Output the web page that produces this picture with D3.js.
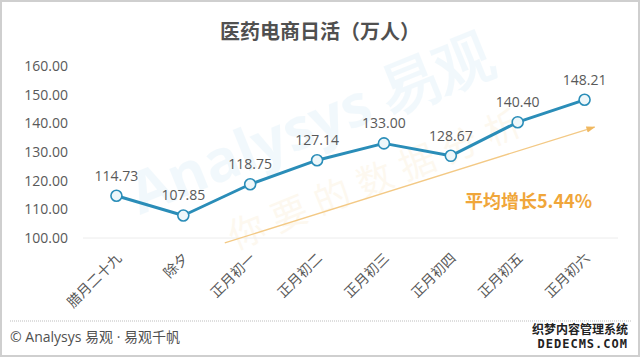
<!DOCTYPE html>
<html><head><meta charset="utf-8">
<script src="https://cdn.jsdelivr.net/npm/d3@7/dist/d3.min.js"></script>
<style>body{margin:0;background:#fff}svg{display:block}</style>
</head><body><svg id="c" width="640" height="357"></svg>
<script>
const categories = ["腊月二十九","除夕","正月初一","正月初二","正月初三","正月初四","正月初五","正月初六"];
const values = [114.73,107.85,118.75,127.14,133.00,128.67,140.40,148.21];
const yTicks = [100,110,120,130,140,150,160];
const title = "医药电商日活（万人）";
const growthLabel = "平均增长5.44%";
const trendFrom = [1.62, 98.3];   // [category index, value]
const trendTo = [7.15, 138.7];
const footer = "© Analysys 易观 · 易观千帆";

const svg = d3.select("#c");
const W = 640, H = 357;
const font = "'Noto Sans CJK SC','Noto Sans',sans-serif";
const txt = "#595959";

svg.append("rect").attr("x",1).attr("y",1).attr("width",W-2).attr("height",H-2)
  .attr("fill","#fff").attr("stroke","#cfcfcf").attr("stroke-width",2);

const x = d3.scaleBand().domain(categories).range([83,618]);
const xi = d3.scaleLinear().domain([0,1]).range([x(categories[0])+x.bandwidth()/2, x(categories[1])+x.bandwidth()/2]);
const y = d3.scaleLinear().domain([100,160]).range([238,66]);

// faint watermarks
const wm = svg.append("g").attr("pointer-events","none");
wm.append("text").attr("transform","translate(140,215) rotate(-22)")
  .attr("font-family","'Open Sans',sans-serif").attr("font-size",58).attr("font-weight",700)
  .attr("fill","#2e9bd6").attr("opacity",0.06).text("Analysys 易观");
wm.append("text").attr("transform","translate(235,250) rotate(-22)")
  .attr("font-family",font).attr("font-size",36)
  .attr("fill","#e8b040").attr("opacity",0.08).attr("letter-spacing",10).text("你要的数据分析");

svg.append("text").attr("x",320).attr("y",39).attr("text-anchor","middle")
  .attr("font-family",font).attr("font-size",20).attr("font-weight",700).attr("fill","#505050").text(title);

// y axis
const ya = svg.append("g").attr("transform","translate(68,0)")
  .call(d3.axisLeft(y).tickValues(yTicks).tickFormat(d3.format(".2f")).tickSize(0).tickPadding(0));
ya.select(".domain").remove();
ya.selectAll("text").attr("font-family","'Open Sans',sans-serif").attr("font-size",14).attr("fill",txt).attr("dy","0.32em");

// baseline
svg.append("line").attr("x1",83).attr("x2",618).attr("y1",y(100)).attr("y2",y(100))
  .attr("stroke","#ececec").attr("stroke-width",1);

// x axis
const xa = svg.append("g").attr("transform",`translate(0,${y(100)})`)
  .call(d3.axisBottom(x).tickSize(0).tickPadding(0));
xa.select(".domain").remove();
xa.selectAll("text").attr("font-family",font).attr("font-size",14).attr("fill",txt)
  .attr("text-anchor","end").attr("dy",0)
  .attr("transform","translate(6,21) rotate(-45)");

// trend arrow
const defs = svg.append("defs");
defs.append("marker").attr("id","ah").attr("viewBox","0 0 10 10").attr("refX",9).attr("refY",5)
  .attr("markerWidth",7).attr("markerHeight",7).attr("orient","auto")
  .append("path").attr("d","M0,1.5 L10,5 L0,8.5 Z").attr("fill","#f0b860");
svg.append("line").attr("x1",xi(trendFrom[0])).attr("y1",y(trendFrom[1]))
  .attr("x2",xi(trendTo[0])).attr("y2",y(trendTo[1]))
  .attr("stroke","#f3c985").attr("stroke-width",1.3).attr("marker-end","url(#ah)");
svg.append("text").attr("x",592).attr("y",208).attr("text-anchor","end")
  .attr("font-family",font).attr("font-size",18).attr("font-weight",700).attr("fill","#f0a63a").text(growthLabel);

// line
const cx = (d,i)=>x(categories[i])+x.bandwidth()/2;
svg.append("path").datum(values)
  .attr("d",d3.line().x(cx).y(d=>y(d)))
  .attr("fill","none").attr("stroke","#2a8db8").attr("stroke-width",3).attr("stroke-linejoin","round");
svg.selectAll("circle.pt").data(values).join("circle").attr("class","pt")
  .attr("cx",cx).attr("cy",d=>y(d)).attr("r",5.5)
  .attr("fill","#eef7fa").attr("stroke","#2a8db8").attr("stroke-width",1.6);
svg.selectAll("text.lbl").data(values).join("text").attr("class","lbl")
  .attr("x",cx).attr("y",d=>y(d)-15).attr("text-anchor","middle")
  .attr("font-family","'Open Sans',sans-serif").attr("font-size",14).attr("fill",txt)
  .text(d=>d.toFixed(2));

// footer
svg.append("line").attr("x1",10).attr("x2",632).attr("y1",321).attr("y2",321)
  .attr("stroke","#bdbdbd").attr("stroke-width",1).attr("stroke-dasharray","1,1");
svg.append("text").attr("x",10).attr("y",342).attr("font-family","'Open Sans','Noto Sans CJK SC',sans-serif").attr("font-size",14)
  .attr("fill","#505050").text(footer);

// site watermark
const sw = svg.append("g").attr("font-family",font).attr("font-weight",700)
  .attr("stroke","#fff").attr("stroke-width",2.5).attr("paint-order","stroke").attr("fill","#222");
sw.append("text").attr("x",628).attr("y",334).attr("text-anchor","end").attr("font-size",12).text("织梦内容管理系统");
sw.append("text").attr("x",628).attr("y",348).attr("text-anchor","end").attr("font-size",12)
  .attr("font-family","'DejaVu Sans Mono',monospace").attr("letter-spacing",1).text("DEDECMS.COM");
</script></body></html>
